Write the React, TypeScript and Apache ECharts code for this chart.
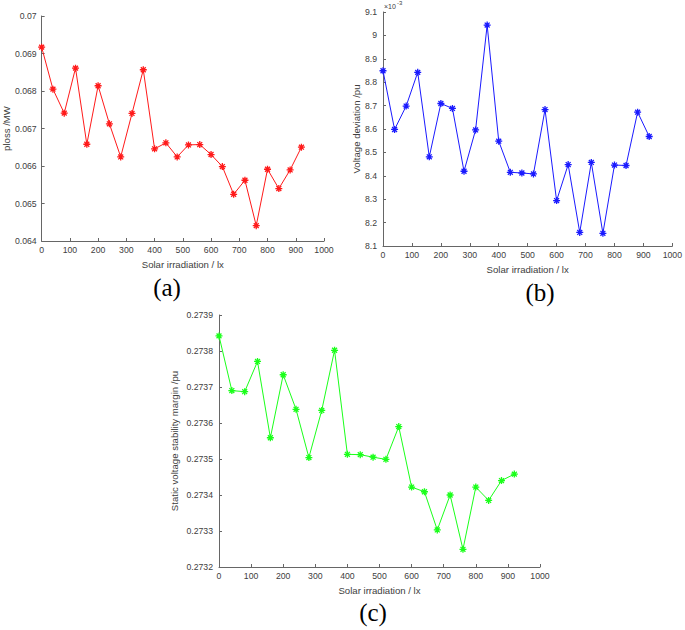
import React, { useEffect, useRef } from "react";
import * as echarts from "echarts";

const irradiation = [0, 40, 80, 120, 160, 200, 240, 280, 320, 360, 400, 440, 480, 520, 560, 600, 640, 680, 720, 760, 800, 840, 880, 920];

const ploss = [0.06917, 0.06805, 0.06741, 0.06861, 0.06658, 0.06814, 0.067125, 0.066243, 0.067401, 0.068567, 0.066457, 0.066617, 0.066243, 0.066563, 0.066572, 0.066306, 0.065985, 0.065246, 0.06562, 0.06441, 0.065914, 0.065397, 0.065896, 0.066501];

// in units of 10^-3 pu
const voltageDeviation = [8.849, 8.598, 8.698, 8.842, 8.481, 8.709, 8.688, 8.4195, 8.596, 9.044, 8.548, 8.415, 8.412, 8.408, 8.683, 8.294, 8.448, 8.158, 8.457, 8.154, 8.446, 8.444, 8.672, 8.568];

const stabilityMargin = [0.273842, 0.27369, 0.273687, 0.273771, 0.273559, 0.273734, 0.273638, 0.273504, 0.273635, 0.273802, 0.273513, 0.273512, 0.273505, 0.273499, 0.27359, 0.273422, 0.273409, 0.273303, 0.2734, 0.273249, 0.273422, 0.273385, 0.27344, 0.273458];

const xTitle = "Solar irradiation / lx";
const yTitles = ["ploss /MW", "Voltage deviation /pu", "Static voltage stability margin /pu"];
const panelLabels = ["(a)", "(b)", "(c)"];

const TEXT = "#404040";
const AXIS = "#666666";
const SANS = "Liberation Sans";
const SERIF = "Liberation Serif";
const STAR = "path://M5,0L5,10M0,5L10,5M1.5,1.5L8.5,8.5M1.5,8.5L8.5,1.5";

export default function App() {
  const ref = useRef<HTMLDivElement>(null);

  useEffect(() => {
    if (!ref.current) return;
    const chart = echarts.init(ref.current, undefined, { renderer: "svg" });

    const grids = [
      { left: 40, top: 16, width: 284, height: 225 },
      { left: 383, top: 12, width: 294, height: 234 },
      { left: 219, top: 315, width: 321, height: 252 },
    ];
    const yCfg = [
      { min: 0.064, max: 0.07, interval: 0.001, dec: 3, gap: 28, margin: 5 },
      { min: 8.1, max: 9.1, interval: 0.1, dec: 1, gap: 21, margin: 6 },
      { min: 0.2732, max: 0.2739, interval: 0.0001, dec: 4, gap: 40, margin: 6 },
    ];
    const colors = ["#ff1a1a", "#1a1aff", "#1aff1a"];
    const datasets = [ploss, voltageDeviation, stabilityMargin];

    const axisCommon = {
      axisLine: { show: true, lineStyle: { color: AXIS, width: 1 } },
      axisTick: { show: true, inside: true, length: 3, lineStyle: { color: AXIS } },
      splitLine: { show: false },
      nameTextStyle: { color: TEXT, fontSize: 9.6, fontFamily: SANS },
    };

    const panelPos = [
      [167, 287],
      [540, 292],
      [373, 612],
    ];

    const option: any = {
      animation: false,
      backgroundColor: "#ffffff",
      grid: grids.map((g) => ({ ...g, containLabel: false })),
      xAxis: grids.map((_, i) => ({
        type: "value",
        gridIndex: i,
        min: 0,
        max: 1000,
        interval: 100,
        name: xTitle,
        nameLocation: "middle",
        nameGap: 18,
        ...axisCommon,
        axisLabel: {
          color: TEXT,
          fontSize: 8.7,
          fontFamily: SANS,
          margin: 4,
          formatter: (v: number) => String(Math.round(v)),
        },
      })),
      yAxis: yCfg.map((c, i) => ({
        type: "value",
        gridIndex: i,
        min: c.min,
        max: c.max,
        interval: c.interval,
        name: yTitles[i],
        nameLocation: "middle",
        nameGap: c.gap,
        ...axisCommon,
        axisLabel: {
          color: TEXT,
          fontSize: 8.7,
          fontFamily: SANS,
          margin: c.margin,
          formatter: (v: number) => String(parseFloat(v.toFixed(c.dec))),
        },
      })),
      series: datasets.map((d, i) => ({
        type: "line",
        xAxisIndex: i,
        yAxisIndex: i,
        data: irradiation.map((x, k) => [x, d[k]]),
        symbol: STAR,
        symbolSize: 7,
        showAllSymbol: true,
        lineStyle: { color: colors[i], width: 1 },
        itemStyle: { color: colors[i], borderColor: colors[i], borderWidth: 1.3 },
      })),
      graphic: [
        {
          type: "text",
          left: 384,
          top: 3,
          style: { text: "×10", fill: TEXT, fontSize: 7, fontFamily: SANS },
        },
        {
          type: "text",
          left: 397,
          top: 0,
          style: { text: "-3", fill: TEXT, fontSize: 6, fontFamily: SANS },
        },
        ...panelLabels.map((t, i) => ({
          type: "text",
          x: panelPos[i][0],
          y: panelPos[i][1],
          style: {
            text: t,
            fill: "#000",
            fontSize: 25,
            fontFamily: SERIF,
            align: "center",
            verticalAlign: "middle",
          },
        })),
      ],
    };

    chart.setOption(option);
    return () => chart.dispose();
  }, []);

  return (
    <div
      ref={ref}
      style={{ position: "absolute", left: 0, top: 0, width: 685, height: 630 }}
    />
  );
}
